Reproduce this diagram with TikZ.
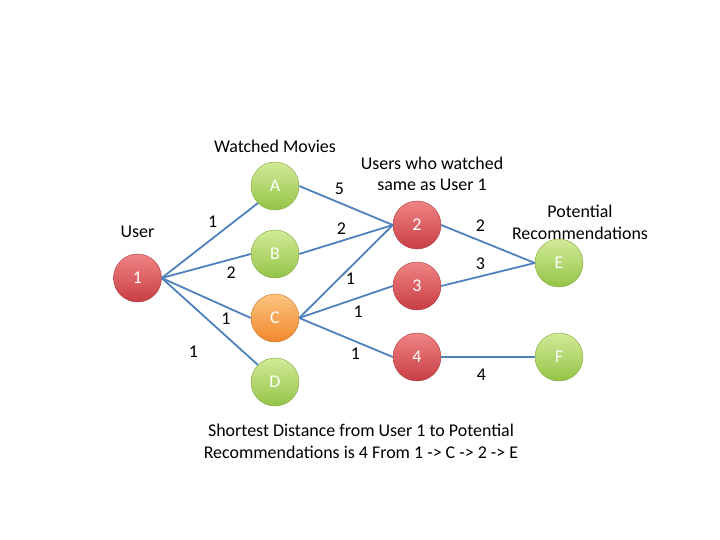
\documentclass[tikz,border=0pt]{standalone}
\usepackage{fontspec}
\setmainfont{Carlito}
\usepackage{xcolor}
\usepackage{tikz}
\usetikzlibrary{positioning}
\definecolor{edgeblue}{RGB}{79, 129, 189}
\definecolor{usertop}{RGB}{240, 132, 132}
\definecolor{userbot}{RGB}{200, 62, 68}
\definecolor{movietop}{RGB}{210, 234, 152}
\definecolor{moviebot}{RGB}{148, 196, 70}
\definecolor{picktop}{RGB}{252, 196, 128}
\definecolor{pickbot}{RGB}{240, 136, 44}

\begin{document}
\begin{tikzpicture}[x=1bp, y=1bp, node distance=60bp, on grid,
    font=\fontsize{18}{21.6}\selectfont,
    vertex/.style={circle, minimum size=48bp, inner sep=0pt, text=white, line width=0.4bp},
    usernode/.style={vertex, top color=usertop, bottom color=userbot, draw=userbot!85!black},
    movienode/.style={vertex, top color=movietop, bottom color=moviebot, draw=moviebot!85!black},
    picknode/.style={vertex, top color=picktop, bottom color=pickbot, draw=pickbot!85!black},
    link/.style={draw=edgeblue, line width=1.8bp},
    wt/.style={inner sep=0pt, text=black},
    caption/.style={align=center, inner sep=0pt}]
    \fill [white] (0,0) rectangle (720,540);
    \useasboundingbox (0,0) rectangle (720,540);

    \node [usernode] (u1) at (137.5,262) {1};
    \node [movienode, above right=92bp and 137.5bp of u1] (a) {A};
    \node [movienode, below=68bp of a] (b) {B};
    \node [picknode, below=64bp of b] (c) {C};
    \node [movienode, below=64bp of c] (d) {D};
    \node [usernode, below right=39bp and 142bp of a] (u2) {2};
    \node [usernode, below=61bp of u2] (u3) {3};
    \node [usernode, below=71bp of u3] (u4) {4};
    \node [movienode, below right=38bp and 142bp of u2] (e) {E};
    \node [movienode, right=142bp of u4] (f) {F};

    \node [caption, above=46bp of u1] (userlbl) {User};
    \node [caption, above=40bp of a] (watchlbl) {Watched Movies};
    \node [caption, above=51bp of u2, xshift=15bp] (samelbl) {Users who watched\\same as User 1};
    \node [caption, above=40.5bp of e, xshift=21bp] (reclbl) {Potential\\Recommendations};
    \node [caption] (pathlbl) at (361,98.5) {Shortest Distance from User 1 to Potential\\Recommendations is 4 From 1 -> C -> 2 -> E};

    \draw [link] (u1.east) -- node [wt, pos=0.53, above=10bp] {1} (a.south west);
    \draw [link] (u1.east) -- node [wt, pos=0.78, below=6.5bp] {2} (b.west);
    \draw [link] (u1.east) -- node [wt, pos=0.72, below=5bp] {1} (c.west);
    \draw [link] (u1.east) -- node [wt, pos=0.33, below=38bp] {1} (d.north west);
    \draw [link] (a.east) -- node [wt, pos=0.43, above=7.5bp] {5} (u2.west);
    \draw [link] (b.east) -- node [wt, pos=0.45, above=6bp] {2} (u2.west);
    \draw [link] (c.east) -- node [wt, pos=0.49, below right=0bp] {1} (u2.west);
    \draw [link] (c.east) -- node [wt, pos=0.63, below=7bp] {1} (u3.west);
    \draw [link] (c.east) -- node [wt, pos=0.6, below=6bp] {1} (u4.west);
    \draw [link] (u2.east) -- node [wt, pos=0.42, above=9bp] {2} (e.west);
    \draw [link] (u3.east) -- node [wt, pos=0.42, above=6bp] {3} (e.west);
    \draw [link] (u4.east) -- node [wt, pos=0.43, below=11bp] {4} (f.west);
\end{tikzpicture}
\end{document}
